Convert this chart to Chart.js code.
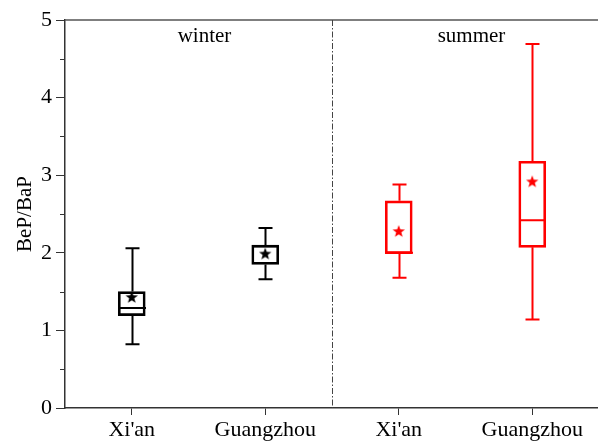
<!DOCTYPE html>
<html lang="en">
<head>
    <meta charset="UTF-8">
    <title>BeP/BaP</title>
    <script src="https://cdn.jsdelivr.net/npm/chart.js"></script>
    <style>
        body {
            margin: 0;
            padding: 0;
            background: #fff;
            overflow: hidden;
        }
        canvas {
            display: block;
        }
    </style>
</head>
<body>
<!-- canvas is a bit wider than the window: the original figure is cut off on the right -->
<canvas id="box" width="607" height="442"></canvas>

<script>
    // values
    const categories = ["Xi'an", 'Guangzhou', "Xi'an", 'Guangzhou'];
    const seasons = ['winter', 'summer'];
    const whiskerLow = [0.82, 1.66, 1.68, 1.14];
    const q1 = [1.19, 1.85, 1.99, 2.07];
    const median = [1.29, 2.08, 2.00, 2.42];
    const q3 = [1.50, 2.10, 2.67, 3.18];
    const whiskerHigh = [2.06, 2.32, 2.88, 4.69];
    const mean = [1.43, 1.99, 2.28, 2.92];
    const colors = ['#000000', '#000000', '#ff0000', '#ff0000'];
    const yTicks = [0, 1, 2, 3, 4, 5];
    const yMinorTicks = [0.5, 1.5, 2.5, 3.5, 4.5];

    const serif = "'Liberation Serif', 'Times New Roman', serif";

    function starImage(color) {
        const c = document.createElement('canvas');
        c.width = 16;
        c.height = 16;
        const g = c.getContext('2d');
        g.fillStyle = color;
        g.beginPath();
        for (let i = 0; i < 10; i++) {
            const r = i % 2 === 0 ? 6.5 : 2.7;
            const a = -Math.PI / 2 + i * Math.PI / 5;
            const px = 8 + r * Math.cos(a);
            const py = 8.5 + r * Math.sin(a);
            if (i === 0) g.moveTo(px, py); else g.lineTo(px, py);
        }
        g.closePath();
        g.fill();
        return c;
    }

    const boxExtras = {
        id: 'boxExtras',
        afterDatasetsDraw(chart) {
            const ctx = chart.ctx;
            const x = chart.scales.x;
            const y = chart.scales.y;
            const area = chart.chartArea;
            ctx.save();

            // whiskers, caps and medians
            ctx.lineWidth = 2;
            categories.forEach((c, i) => {
                const cx = Math.round(x.getPixelForValue(i)) + 0.5;
                ctx.strokeStyle = colors[i];
                ctx.beginPath();
                ctx.moveTo(cx, y.getPixelForValue(whiskerLow[i]));
                ctx.lineTo(cx, y.getPixelForValue(q1[i]));
                ctx.moveTo(cx, y.getPixelForValue(q3[i]));
                ctx.lineTo(cx, y.getPixelForValue(whiskerHigh[i]));
                ctx.moveTo(cx - 7, y.getPixelForValue(whiskerLow[i]));
                ctx.lineTo(cx + 7, y.getPixelForValue(whiskerLow[i]));
                ctx.moveTo(cx - 7, y.getPixelForValue(whiskerHigh[i]));
                ctx.lineTo(cx + 7, y.getPixelForValue(whiskerHigh[i]));
                ctx.moveTo(cx - 13.5, y.getPixelForValue(median[i]));
                ctx.lineTo(cx + 13.5, y.getPixelForValue(median[i]));
                ctx.stroke();
            });

            // top frame
            ctx.strokeStyle = '#555';
            ctx.lineWidth = 1.5;
            ctx.beginPath();
            ctx.moveTo(area.left, area.top);
            ctx.lineTo(chart.width, area.top);
            ctx.stroke();

            // minor y ticks
            ctx.strokeStyle = '#333';
            ctx.lineWidth = 1;
            ctx.beginPath();
            yMinorTicks.forEach(v => {
                const py = Math.round(y.getPixelForValue(v)) + 0.5;
                ctx.moveTo(area.left - 5, py);
                ctx.lineTo(area.left, py);
            });
            ctx.stroke();

            // season divider
            const dx = Math.round(x.getPixelForValue(1.5)) + 0.5;
            ctx.strokeStyle = '#444';
            ctx.setLineDash([6, 2, 1.5, 2]);
            ctx.beginPath();
            ctx.moveTo(dx, area.top);
            ctx.lineTo(dx, area.bottom);
            ctx.stroke();
            ctx.setLineDash([]);

            // season labels
            ctx.fillStyle = '#000';
            ctx.font = '21px ' + serif;
            ctx.textAlign = 'center';
            ctx.textBaseline = 'alphabetic';
            seasons.forEach((s, k) => {
                ctx.fillText(s, x.getPixelForValue(k * 2 + 0.5) + 6, 42);
            });
            ctx.restore();
        }
    };

    new Chart(document.getElementById('box'), {
        type: 'bar',
        data: {
            labels: categories,
            datasets: [{
                label: 'box',
                data: q1.map((v, i) => [v, q3[i]]),
                backgroundColor: 'rgba(0,0,0,0)',
                borderColor: colors,
                borderWidth: 2,
                borderSkipped: false,
                barThickness: 27
            }, {
                type: 'line',
                label: 'mean',
                data: mean,
                showLine: false,
                pointStyle: colors.map(c => starImage(c)),
                pointRadius: 7
            }]
        },
        options: {
            responsive: false,
            animation: false,
            layout: { padding: { top: 20, right: 0, bottom: 0, left: 0 } },
            plugins: {
                legend: { display: false },
                tooltip: { enabled: false }
            },
            scales: {
                x: {
                    type: 'category',
                    offset: true,
                    grid: { offset: false, drawOnChartArea: false, tickLength: 7, tickColor: '#333', tickWidth: 1 },
                    border: { color: '#333', width: 1.5 },
                    ticks: { color: '#000', font: { family: serif, size: 22 }, padding: 2, maxRotation: 0 },
                    afterFit: s => { s.height = 34; }
                },
                y: {
                    min: 0,
                    max: 5,
                    afterBuildTicks: s => { s.ticks = yTicks.map(v => ({ value: v })); },
                    grid: { drawOnChartArea: false, tickLength: 9, tickColor: '#333', tickWidth: 1 },
                    border: { color: '#333', width: 1.5 },
                    ticks: { color: '#000', font: { family: serif, size: 22 }, padding: 4 },
                    title: {
                        display: true,
                        text: 'BeP/BaP',
                        color: '#000',
                        font: { family: serif, size: 21 },
                        padding: { top: 13, bottom: 0 }
                    },
                    afterFit: s => { s.width = 65; }
                }
            }
        },
        plugins: [boxExtras]
    });
</script>
</body>
</html>
